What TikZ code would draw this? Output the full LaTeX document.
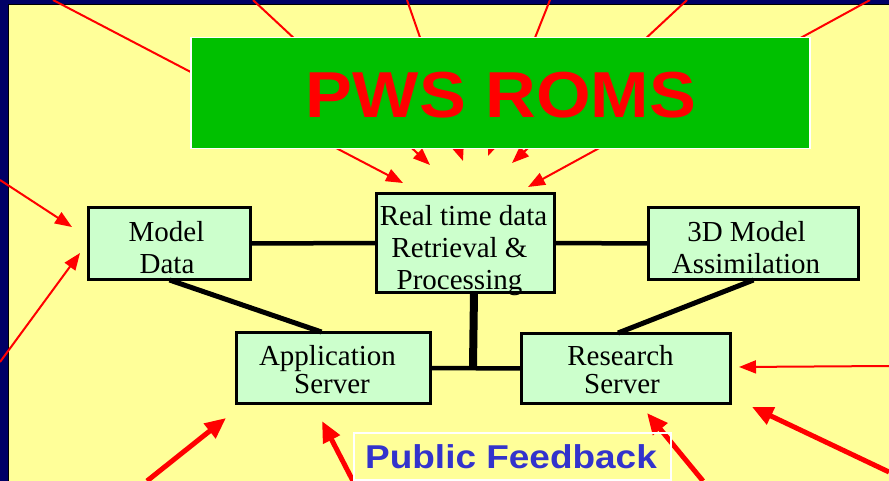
\documentclass[tikz,border=0pt]{standalone}
\usepackage{fontspec}
\usepackage{graphicx}
\usetikzlibrary{arrows.meta}
\newfontfamily\boxfont{Liberation Serif}
\newfontfamily\headfont{Liberation Sans}
\definecolor{framenavy}{HTML}{000066}
\definecolor{paper}{HTML}{FFFF99}
\definecolor{titlegreen}{HTML}{00C000}
\definecolor{mint}{HTML}{CCFFCC}
\definecolor{feedblue}{HTML}{3333CC}
\begin{document}
\begin{tikzpicture}[x=1pt,y=-1pt,
  unitbox/.style={draw=black, line width=2pt, fill=mint, inner sep=0pt,
    align=center, font=\boxfont\fontsize{29}{32}\selectfont},
  serverbox/.style={unitbox, font=\boxfont\fontsize{29}{28}\selectfont},
  feed/.style={draw=red, line width=2pt, -{Triangle[length=17pt,width=13pt]}},
  bigfeed/.style={draw=red, line width=5pt, -{Triangle[length=21pt,width=18pt]}},
  link/.style={draw=black, line width=4.5pt}
]
\useasboundingbox (0,0) rectangle (889,481);

% page frame
\fill[framenavy] (0,0) rectangle (889,481);
\filldraw[fill=paper, draw=black, line width=1pt] (8.5,4.5) rectangle (895,490);

% incoming arrows from the top, passing behind the title
\coordinate (t1) at (53,0);   \coordinate (h1) at (403,183);
\coordinate (t2) at (253,0);  \coordinate (h2) at (430,165);
\coordinate (t3) at (407,0);  \coordinate (h3) at (463,161);
\coordinate (t4) at (550,0);  \coordinate (h4) at (488,156);
\coordinate (t5) at (687,0);  \coordinate (h5) at (512,163);
\coordinate (t6) at (870,0);  \coordinate (h6) at (528,187);
\foreach \i in {1,...,6} \draw[feed] (t\i) -- (h\i);

% title banner
\node[draw=white, line width=1.5pt, fill=titlegreen, minimum width=619pt,
  minimum height=111pt, anchor=north west, inner sep=0pt] (title) at (190,37) {};
\node[anchor=base, text=red, font=\headfont\bfseries\fontsize{65}{65}\selectfont]
  (titletext) at (501,118) {\scalebox{1.08}[1]{PWS ROMS}};

% component boxes (text height runs from the top edge to the last baseline)
\node[unitbox, anchor=north west, minimum width=161pt, text height=65pt, text depth=6pt]
  (model) at (88,207) {Model\kern6pt\\Data\kern5pt};
\node[unitbox, anchor=north west, minimum width=177pt, text height=95pt, text depth=3pt]
  (rt) at (376,193) {Real time data\kern4pt\\Retrieval \&\kern12pt\\Processing\kern12pt};
\node[unitbox, anchor=north west, minimum width=209pt, text height=65pt, text depth=6pt]
  (asm) at (648,207) {3D Model\kern14pt\\Assimilation\kern15pt};
\node[serverbox, anchor=north west, minimum width=193pt, text height=60pt, text depth=10pt]
  (app) at (236,332) {Application\kern12pt\\Server\kern3pt};
\node[serverbox, anchor=north west, minimum width=208pt, text height=59pt, text depth=10pt]
  (res) at (521,333) {Research\kern11pt\\Server\kern8pt};

% connections between components
\coordinate (bus) at (473,366);
\draw[link] (model.east) -- (rt.west);
\draw[link] (rt.east) -- (asm.west);
\draw[link, line width=5pt] (model.south) -- ([xshift=-12pt]app.north);
\draw[link, line width=5pt] (asm.south) -- ([xshift=-8pt]res.north);
\draw[link, line width=8pt] ([xshift=8.5pt]rt.south) -- (bus);
\draw[link] (app.east) -- (res.west);
% redraw box outlines over the connector ends
\foreach \n in {model,rt,asm,app,res}
  \draw[line width=2pt] (\n.north west) rectangle (\n.south east);

% side arrows
\coordinate (l1) at (0,180);   \coordinate (m1) at (72,227);
\coordinate (l2) at (0,362);   \coordinate (m2) at (80,253);
\coordinate (r1) at (889,366); \coordinate (s1) at (739,367);
\draw[feed] (l1) -- (m1);
\draw[feed] (l2) -- (m2);
\draw[feed] (r1) -- (s1);

% heavy arrows from below
\coordinate (b1) at (147,481); \coordinate (e1) at (226,418);
\coordinate (b2) at (353,481); \coordinate (e2) at (322,421);
\coordinate (b3) at (703,481); \coordinate (e3) at (647,413);
\coordinate (b4) at (889,472); \coordinate (e4) at (752,407);
\foreach \i in {1,...,4} \draw[bigfeed] (b\i) -- (e\i);

% feedback label
\node[draw=white, line width=1.5pt, minimum width=317pt, minimum height=47pt,
  anchor=north west, inner sep=0pt] (pf) at (353,432) {};
\node[anchor=base, text=feedblue, font=\headfont\bfseries\fontsize{33}{33}\selectfont]
  (pftext) at (511,468) {\scalebox{1.12}[1]{Public Feedback}};
\end{tikzpicture}
\end{document}
